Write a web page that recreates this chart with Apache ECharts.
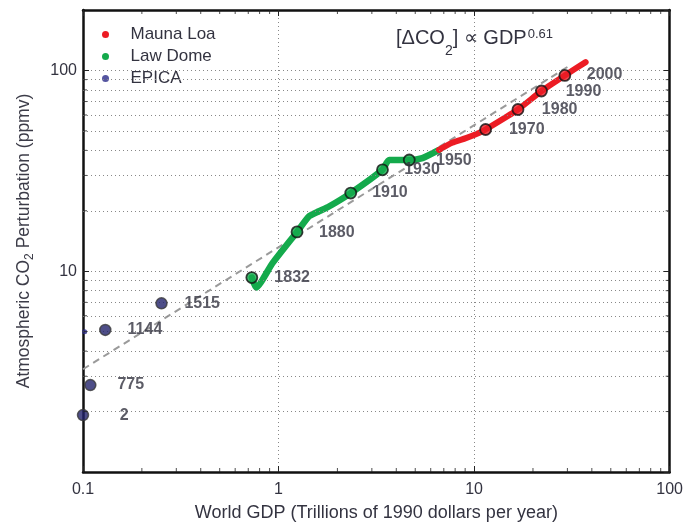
<!DOCTYPE html>
<html>
<head>
<meta charset="utf-8">
<script src="https://cdn.jsdelivr.net/npm/echarts@6/dist/echarts.min.js"></script>
<style>
  html, body { margin: 0; padding: 0; background: #fff; }
  #main { width: 686px; height: 529px; }
</style>
</head>
<body>
<div id="main"></div>
<script>
// axis values
var xMin = 0.1, xMax = 100;
var yMin = 1, yMax = 200;
var xMinorTicks = [0.2, 0.3, 0.4, 0.5, 0.6, 0.7, 0.8, 0.9, 2, 3, 4, 5, 6, 7, 8, 9, 20, 30, 40, 50, 60, 70, 80, 90];
var yMinorTicks = [2, 3, 4, 5, 6, 7, 8, 9, 20, 30, 40, 50, 60, 70, 80, 90];
var yMinorGrid = [2, 3, 4, 5, 6, 7, 8, 9, 20, 30, 40, 50, 60, 70, 80, 90];

// series data [GDP, CO2]
var maunaLoa = [[6.62, 40.2], [7.71, 43.6], [9.08, 46.0], [10.57, 48.8], [11.45, 50.8], [16.76, 63.9], [22.1, 79.0], [29.1, 94.4], [37.2, 110]];
var lawDome = [[0.73, 9.3], [0.767, 8.3], [0.933, 11.0], [1.243, 15.7], [1.435, 18.8], [1.61, 19.9], [1.81, 21.0], [2.34, 24.5], [3.40, 32.0], [3.68, 35.8], [4.66, 35.8], [5.44, 36.6], [6.62, 40.2]];
var epica = [[0.102, 5.0]];
var fitLine = [[0.1, 3.25], [30, 104]];

// marked years
var epicaMarks = [[0.1, 1.92], [0.109, 2.71], [0.130, 5.1], [0.252, 6.92]];
var lawMarks = [[0.73, 9.3], [1.243, 15.7], [2.34, 24.5], [3.40, 32.0], [4.66, 35.8]];
var maunaMarks = [[11.45, 50.8], [16.76, 63.9], [22.1, 79.0], [29.1, 94.4]];

// year labels [GDP, CO2, text]
var yearLabels = [
  [0.154, 1.92, '2'], [0.150, 2.71, '775'], [0.169, 5.1, '1144'], [0.330, 6.87, '1515'],
  [0.952, 9.3, '1832'], [1.61, 15.5, '1880'], [3.01, 24.7, '1910'], [4.39, 32.0, '1930'],
  [6.39, 35.4, '1950'], [15.07, 50.5, '1970'], [22.2, 63.9, '1980'], [29.4, 78.1, '1990'],
  [37.7, 95.5, '2000']
];

var FONT = 'Liberation Sans, Arial, sans-serif';
var TXT = '#333340';
var RED = '#ec1c24';
var GREEN = '#14aa4c';
var NAVY = '#2a2a88';

// small inward ticks on the frame, placed through the log scales
function tickSeries(data, size, offset) {
  return {
    type: 'scatter',
    data: data,
    symbol: 'rect',
    symbolSize: size,
    symbolOffset: offset,
    silent: true,
    z: 7,
    itemStyle: { color: '#222' }
  };
}
var xBottomTicks = xMinorTicks.map(function (v) { return [v, yMin]; });
var xTopTicks = xMinorTicks.map(function (v) { return [v, yMax]; });
var yLeftTicks = yMinorTicks.map(function (v) { return [xMin, v]; });
var yRightTicks = yMinorTicks.map(function (v) { return [xMax, v]; });

function frameAxis(pos, min, max) {
  return {
    type: 'log', logBase: 10, min: min, max: max, position: pos,
    axisLine: { show: true, lineStyle: { color: '#111', width: 2.5 } },
    axisTick: { show: true, inside: true, length: 6, lineStyle: { color: '#222', width: 1 } },
    axisLabel: { show: false },
    splitLine: { show: false }
  };
}

var dom = document.getElementById('main');
var myChart = echarts.init(dom);

var option = {
  backgroundColor: '#fff',
  animation: false,
  textStyle: { fontFamily: FONT },
  title: {
    text: '{a|[ΔCO}{b|2}{a|] ∝ GDP}{c|0.61}',
    left: 396, top: 18, padding: 0,
    textStyle: {
      fontWeight: 'normal',
      rich: {
        a: { fontSize: 20, lineHeight: 40, verticalAlign: 'middle', color: TXT, fontFamily: FONT, fontWeight: 'normal' },
        b: { fontSize: 14, lineHeight: 14, verticalAlign: 'bottom', color: TXT, fontFamily: FONT, fontWeight: 'normal' },
        c: { fontSize: 13, lineHeight: 20, verticalAlign: 'top', padding: [10, 0, 0, 1], color: TXT, fontFamily: FONT, fontWeight: 'normal' }
      }
    }
  },
  legend: {
    data: ['Mauna Loa', 'Law Dome', 'EPICA'],
    orient: 'vertical', left: 97, top: 21,
    icon: 'circle', itemWidth: 40, itemHeight: 7, itemGap: 5,
    textStyle: { fontSize: 17, color: TXT, fontFamily: FONT }
  },
  grid: { left: 83, right: 15, top: 10, bottom: 57 },
  xAxis: [
    {
      type: 'log', logBase: 10, min: xMin, max: xMax, position: 'bottom',
      name: 'World GDP (Trillions of 1990 dollars per year)',
      nameLocation: 'middle', nameGap: 32,
      nameTextStyle: { fontSize: 18, color: TXT, fontFamily: FONT },
      axisLine: { show: true, lineStyle: { color: '#111', width: 2.5 } },
      axisTick: { show: true, inside: true, length: 6, lineStyle: { color: '#222', width: 1 } },
      axisLabel: { fontSize: 16, color: TXT, margin: 10, fontFamily: FONT },
      splitLine: { show: true, lineStyle: { color: '#888', type: [1, 3], width: 1 } }
    },
    frameAxis('top', xMin, xMax)
  ],
  yAxis: [
    {
      type: 'log', logBase: 10, min: yMin, max: yMax, position: 'left',
      name: '{n|Atmospheric CO}{s|2}{n| Perturbation (ppmv)}',
      nameLocation: 'middle', nameGap: 47,
      nameTextStyle: {
        rich: {
          n: { fontSize: 17.5, color: '#3c3c48', fontFamily: FONT, lineHeight: 24, verticalAlign: 'middle' },
          s: { fontSize: 12, color: '#3c3c48', fontFamily: FONT, lineHeight: 12, verticalAlign: 'bottom' }
        }
      },
      axisLine: { show: true, lineStyle: { color: '#111', width: 2.5 } },
      axisTick: { show: true, inside: true, length: 6, lineStyle: { color: '#222', width: 1 } },
      axisLabel: { fontSize: 16, color: TXT, margin: 6, showMinLabel: false, showMaxLabel: false, fontFamily: FONT },
      splitLine: { show: true, lineStyle: { color: '#888', type: [1, 3], width: 1 } }
    },
    frameAxis('right', yMin, yMax)
  ],
  series: [
    {
      name: 'fit',
      type: 'line',
      data: fitLine,
      symbol: 'none',
      silent: true,
      z: 1,
      lineStyle: { color: '#9a9a9a', width: 2, type: [7, 5] },
      markLine: {
        silent: true,
        symbol: 'none',
        label: { show: false },
        lineStyle: { color: '#888', type: [1, 3], width: 1 },
        data: yMinorGrid.map(function (v) { return { yAxis: v }; })
      }
    },
    {
      name: 'Law Dome',
      type: 'line',
      data: lawDome,
      symbol: 'none',
      smooth: 0.2,
      color: GREEN,
      z: 3,
      lineStyle: { color: GREEN, width: 6.5, cap: 'round', join: 'round' }
    },
    {
      name: 'Mauna Loa',
      type: 'line',
      data: maunaLoa,
      symbol: 'none',
      smooth: 0.2,
      color: RED,
      z: 4,
      lineStyle: { color: RED, width: 6, cap: 'round', join: 'round' }
    },
    {
      name: 'EPICA',
      type: 'scatter',
      data: epica,
      symbol: 'circle',
      symbolSize: 5,
      color: NAVY,
      z: 4,
      itemStyle: { color: NAVY }
    },
    {
      name: 'epicaMarks',
      type: 'scatter',
      data: epicaMarks,
      symbolSize: 11,
      z: 5,
      itemStyle: { color: '#22226a', borderColor: '#3a3a3a', borderWidth: 1.5 }
    },
    {
      name: 'lawMarks',
      type: 'scatter',
      data: lawMarks,
      symbolSize: 11,
      z: 5,
      itemStyle: { color: GREEN, borderColor: '#111', borderWidth: 1.8 }
    },
    {
      name: 'maunaMarks',
      type: 'scatter',
      data: maunaMarks,
      symbolSize: 11,
      z: 5,
      itemStyle: { color: RED, borderColor: '#111', borderWidth: 1.8 }
    },
    {
      name: 'years',
      type: 'scatter',
      data: yearLabels,
      symbolSize: 0,
      z: 6,
      silent: true,
      label: {
        show: true,
        position: 'right',
        distance: 0,
        formatter: function (p) { return p.data[2]; },
        fontSize: 16,
        fontWeight: 'bold',
        color: TXT,
        fontFamily: FONT
      }
    },
    tickSeries(xBottomTicks, [1, 4], [0, -2]),
    tickSeries(xTopTicks, [1, 4], [0, 2]),
    tickSeries(yLeftTicks, [4, 1], [2, 0]),
    tickSeries(yRightTicks, [4, 1], [-2, 0])
  ]
};

if (option && typeof option === 'object') {
  myChart.setOption(option, true);
}
</script>
</body>
</html>
